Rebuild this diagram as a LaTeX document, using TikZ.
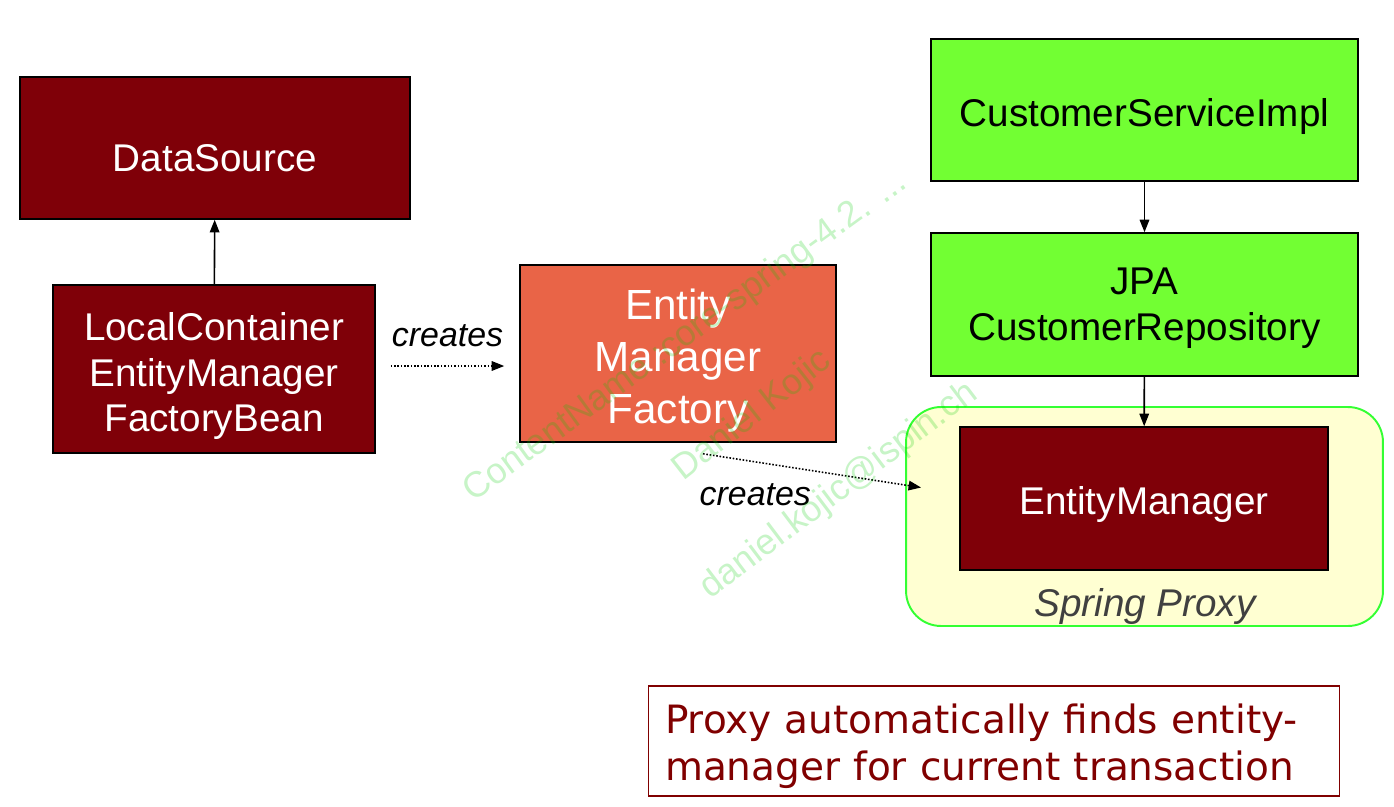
\documentclass[tikz,border=0pt]{standalone}
\usepackage{fontspec}
\setmainfont{Liberation Sans}
\newfontfamily\notefont{DejaVu Sans}
\usetikzlibrary{arrows.meta,positioning,calc}

\definecolor{beanred}{HTML}{7F0008}
\definecolor{factoryred}{HTML}{E96447}
\definecolor{servicegreen}{HTML}{72FF33}
\definecolor{proxyfill}{HTML}{FFFFD2}
\definecolor{proxyline}{HTML}{33FF33}
\definecolor{notered}{HTML}{800000}
\definecolor{markgreen}{HTML}{00CC00}

\begin{document}
\begin{tikzpicture}[x=0.02cm,y=-0.02cm,>={Triangle[length=0.25cm,width=0.19cm]},
    box/.style={draw=black,line width=0.9pt,inner sep=0pt},
    boxtext/.style={align=center,yshift=-0.12cm,font=\fontsize{22}{26.1}\selectfont},
    bean/.style={box,fill=beanred},
    factory/.style={box,fill=factoryred},
    service/.style={box,fill=servicegreen},
    proxybox/.style={draw=proxyline,line width=1.1pt,fill=proxyfill,rounded corners=0.7cm,inner sep=0pt},
    createsline/.style={->,line width=0.9pt,dash pattern=on 0.9pt off 1pt},
    createslabel/.style={font=\fontsize{19.3}{23}\selectfont\itshape},
    watermark/.style={text=markgreen,text opacity=0.22,inner sep=0pt,font=\fontsize{20.5}{24}\selectfont}]

    \useasboundingbox (0,0) rectangle (1394,806);

    % left side
    \node[bean,minimum width=7.8cm,minimum height=2.84cm,
        label={[boxtext,text=white,yshift=-0.08cm]center:DataSource}](datasource) at (215,148) {};
    \node[bean,minimum width=6.44cm,minimum height=3.36cm,
        label={[boxtext,text=white,yshift=-0.02cm]center:LocalContainer\\EntityManager\\FactoryBean}](emfbean) at (214,369) {};
    \node[factory,minimum width=6.32cm,minimum height=3.54cm,
        label={[boxtext,text=white,yshift=-0.02cm,font=\fontsize{24}{29.5}\selectfont]center:Entity\\Manager\\Factory}](emfactory) at (678,353.5) {};

    % right side
    \node[service,minimum width=8.54cm,minimum height=2.84cm,
        label={[boxtext]center:CustomerServiceImpl}](service) at (1144.5,110) {};
    \node[service,minimum width=8.54cm,minimum height=2.86cm,
        label={[boxtext,yshift=0.04cm]center:JPA\\CustomerRepository}](repository) at (1144.5,304.5) {};
    \node[proxybox,minimum width=9.54cm,minimum height=4.38cm](proxy) at (1144.5,516.5) {};
    \node[bean,minimum width=7.36cm,minimum height=2.86cm,
        label={[boxtext,text=white]center:EntityManager}](entitymanager) at (1144,498.5) {};
    \node[text=black!75,font=\fontsize{22}{26.1}\selectfont\itshape](proxylabel) at (1145,606) {Spring Proxy};

    % note
    \node[draw=notered,line width=0.6pt,inner sep=0pt,minimum width=13.84cm,minimum height=2.2cm,
        label={[text=notered,align=left,text width=13.16cm,yshift=-0.1cm,
            font=\notefont\fontsize{22.2}{26.6}\selectfont]center:Proxy automatically finds entity-\\manager for current transaction}](note) at (994,741) {};

    % connectors
    \draw[->,line width=0.9pt] (emfbean) -- (datasource);
    \draw[->,line width=0.9pt] (service) -- (repository);
    \draw[->,line width=0.9pt] (repository) -- (entitymanager);

    \coordinate (leftend) at ($(emfbean.east |- 0,366)+(15,0)$);
    \coordinate (rightend) at ($(emfactory.west |- 0,366)+(-15,0)$);
    \draw[createsline] (leftend) -- node[createslabel,above=0.25cm]{creates} (rightend);

    \coordinate (factoryout) at ($(emfactory.south)+(25,11)$);
    \coordinate (proxyin) at ($(proxy.west)+(16,-29)$);
    \draw[createsline] (factoryout) -- node[createslabel,below=0.3cm,pos=0.24]{creates} (proxyin);

    % watermark
    \node[watermark,rotate=36,anchor=base west](wmcontent) at (473,503) {ContentName :core-spring-4.2. ...};
    \node[watermark,rotate=38,anchor=base west](wmauthor) at (683,482) {Daniel Kojic};
    \node[watermark,rotate=37,anchor=base west](wmmail) at (710,600) {daniel.kojic@ispin.ch};

\end{tikzpicture}
\end{document}
